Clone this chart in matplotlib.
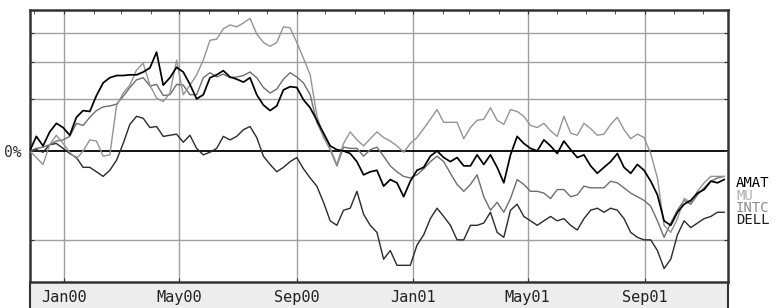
import matplotlib
matplotlib.use("Agg")
import matplotlib.pyplot as plt
import matplotlib.dates as mdates
from matplotlib.patches import Rectangle
from matplotlib.lines import Line2D
import numpy as np
import pandas as pd

# weekly closes, % change since 26 Nov 1999
dates = pd.date_range("1999-11-26", periods=105, freq="7D")

amat = [0, 12, 4, 16, 24, 20, 13, 30, 37, 36, 54, 70, 77, 80, 80, 81, 81, 85, 91, 116,
        67, 77, 92, 85, 68, 50, 55, 77, 81, 87, 78, 75, 71, 77, 55, 43, 37, 42, 61, 65,
        64, 49, 40, 27, 15, 4, 1, 0, -2, -8, -17, -15, -14, -24, -20, -22, -30, -21, -14, -12,
        -4, 0, -5, -8, -5, -11, -11, -3, -10, -3, -12, -22, -3, 12, 6, 2, 0, 9, 4, -2,
        8, 1, -5, -3, -11, -16, -12, -8, -2, -12, -16, -10, -14, -21, -29, -42, -44, -38, -34, -32,
        -28, -26, -21, -22, -20]
mu = [0, -5, -10, 5, 13, 6, -1, -6, 0, 9, 8, -4, -3, 42, 57, 67, 88, 98, 67, 51,
      47, 57, 103, 55, 67, 81, 103, 137, 139, 159, 167, 163, 171, 181, 149, 133, 126, 133, 163, 161,
      133, 106, 81, 32, 11, 2, -10, 6, 16, 9, 4, 10, 16, 11, 8, 4, -1, 6, 11, 19,
      28, 38, 25, 25, 25, 10, 20, 27, 28, 40, 27, 23, 38, 36, 31, 22, 20, 24, 17, 12,
      31, 15, 13, 24, 19, 13, 14, 23, 30, 18, 10, 14, 11, -2, -19, -44, -47, -41, -31, -33,
      -27, -22, -18, -18, -18]
intc = [0, 2, 3, 5, 8, 9, 12, 24, 22, 30, 37, 41, 42, 44, 53, 64, 74, 77, 66, 68,
        54, 55, 68, 67, 55, 55, 77, 84, 78, 82, 77, 78, 80, 85, 77, 64, 57, 62, 75, 84,
        78, 70, 55, 25, 12, 1, -11, 3, 2, 2, -4, 1, 3, -4, -11, -15, -18, -19, -17, -13,
        -8, -4, -8, -16, -23, -27, -23, -17, -30, -37, -33, -38, -31, -20, -23, -27, -27, -28, -31, -26,
        -26, -30, -29, -24, -25, -25, -25, -21, -22, -25, -28, -30, -32, -35, -42, -49, -43, -37, -32, -34,
        -29, -25, -21, -19, -18]
dell = [0, 1, -1, 5, 6, 2, -2, -5, -12, -12, -15, -18, -14, -7, 6, 23, 31, 29, 20, 21,
        12, 13, 14, 7, 13, 2, -3, -1, 2, 12, 9, 12, 18, 21, 11, -4, -10, -15, -12, -8,
        -5, -13, -19, -24, -33, -42, -44, -37, -36, -27, -39, -44, -47, -57, -54, -59, -59, -59, -52, -48,
        -41, -36, -40, -44, -50, -50, -44, -44, -43, -38, -47, -49, -37, -34, -40, -42, -44, -42, -40, -42,
        -41, -44, -46, -41, -37, -36, -38, -36, -37, -41, -47, -49, -50, -50, -54, -60, -57, -48, -42, -45,
        -43, -41, -40, -38, -38]

names = ["AMAT", "MU", "INTC", "DELL"]
series = {"AMAT": amat, "MU": mu, "INTC": intc, "DELL": dell}
line_colors = {"AMAT": "#000000", "MU": "#949494", "INTC": "#6e6e6e", "DELL": "#2a2a2a"}
text_colors = {"AMAT": "#000000", "MU": "#b0b0b0", "INTC": "#8c8c8c", "DELL": "#1a1a1a"}
month_labels = ["Jan00", "May00", "Sep00", "Jan01", "May01", "Sep01"]
label_dates = pd.to_datetime(["2000-01-01", "2000-05-01", "2000-09-01",
                              "2001-01-01", "2001-05-01", "2001-09-01"])
grid_levels = [0.5, 1.5, 2.0, 2.5]

W, H = 779, 308
fig = plt.figure(figsize=(W / 100, H / 100), dpi=100)
fig.patch.set_facecolor("white")

x0, x1, ytop, ybot = 30, 728, 10, 282
ax = fig.add_axes([x0 / W, (H - ybot) / H, (x1 - x0) / W, (ybot - ytop) / H])
ax.set_zorder(2)

# gray strip under the axis holding the month labels
fig.patches.append(Rectangle((x0 / W, 0), (x1 - x0) / W, (H - ybot) / H,
                             transform=fig.transFigure, facecolor="#ededed",
                             edgecolor="none", zorder=0))
for xe in (x0, x1):
    fig.lines.append(Line2D([xe / W, xe / W], [0, (H - ybot) / H],
                            transform=fig.transFigure, color="#333333", lw=1.5, zorder=1))

ax.set_yscale("log")
ax.set_ylim(0.36, 3.0)
ax.set_xlim(pd.Timestamp("1999-11-26 08:00"), pd.Timestamp("2001-11-27"))

for lv in grid_levels:
    ax.axhline(lv, color="#a0a0a0", lw=1.0, zorder=1)
for d in label_dates:
    ax.axvline(d, color="#a0a0a0", lw=1.0, zorder=1)
ax.axhline(1.0, color="#000000", lw=1.3, zorder=1.5)

for name in ["DELL", "INTC", "MU", "AMAT"]:
    vals = 1 + np.array(series[name]) / 100.0
    ax.plot(dates, vals, color=line_colors[name],
            lw=1.25 if name == "AMAT" else 1.0, zorder=3)

ax.set_yticks([0.5, 1.0, 1.5, 2.0, 2.5])
ax.set_yticklabels(["", "0%", "", "", ""], family="DejaVu Sans Mono", fontsize=10.5)
ax.yaxis.set_minor_locator(matplotlib.ticker.NullLocator())
ax.tick_params(axis="y", which="both", direction="in", length=3, left=True, right=True,
               pad=6, colors="#333333", labelcolor="#333333")

ax.set_xticks(label_dates)
ax.set_xticklabels(month_labels, family="DejaVu Sans Mono", fontsize=11)
ax.xaxis.set_minor_locator(mdates.MonthLocator())
ax.tick_params(axis="x", which="major", direction="in", length=3, top=True, bottom=True,
               pad=6, colors="#333333", labelcolor="#222222")
ax.tick_params(axis="x", which="minor", direction="in", length=3, top=True, bottom=False,
               colors="#333333")

for side, s in ax.spines.items():
    s.set_color("#333333")
    s.set_linewidth(1.8)

# series names on the right, ordered by final value
label_y = [183, 195.5, 208, 220.5]
for name, yy in zip(names, label_y):
    fig.text(736 / W, 1 - yy / H, name, color=text_colors[name], family="DejaVu Sans Mono",
             fontsize=10, va="center", ha="left")

fig.savefig("out.png", dpi=100)
